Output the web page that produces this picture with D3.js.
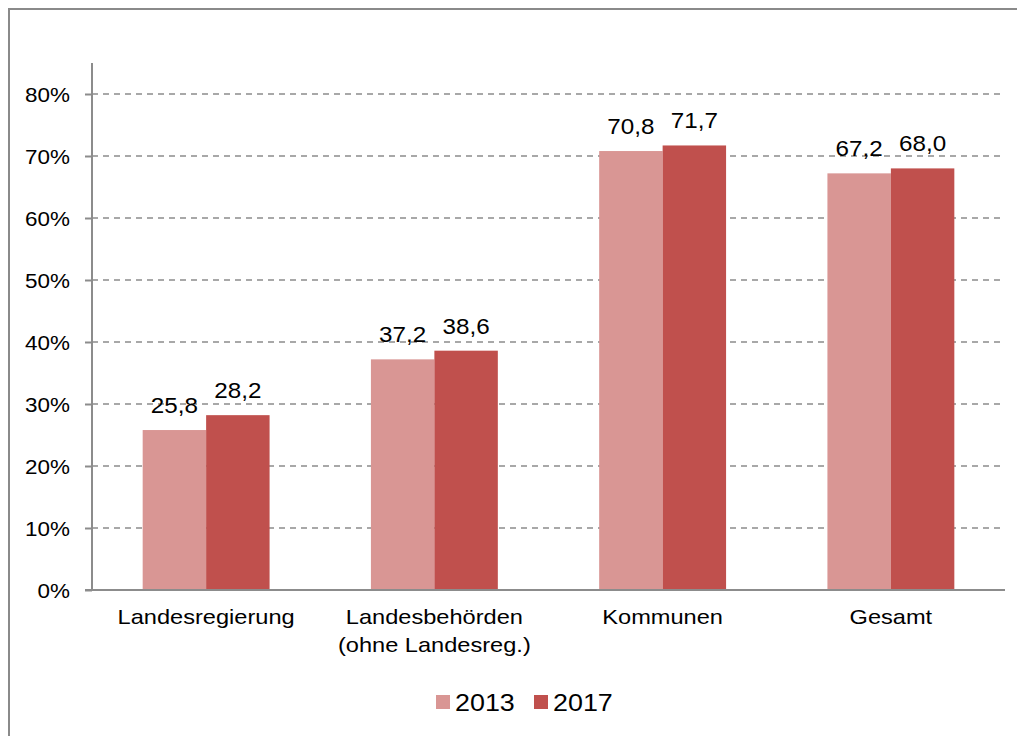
<!DOCTYPE html>
<html><head><meta charset="utf-8">
<script src="https://cdn.jsdelivr.net/npm/d3@7"></script>
<style>body{margin:0;background:#fff}svg{display:block;font-family:"Liberation Sans",Arial,sans-serif}</style>
</head><body><svg id="c" width="1017" height="736"></svg>
<script>
const categories = [["Landesregierung"], ["Landesbehörden", "(ohne Landesreg.)"], ["Kommunen"], ["Gesamt"]];
const series = ["2013", "2017"];
const values2013 = [25.8, 37.2, 70.8, 67.2];
const values2017 = [28.2, 38.6, 71.7, 68.0];
const yTicks = [0, 10, 20, 30, 40, 50, 60, 70, 80];
const colors = ["#D99694", "#C0504D"];

const svg = d3.select("#c");
function txt(parent, x, y, s, size, sx, anchor) {
  return parent.append("text").attr("transform", `translate(${x},${y}) scale(${sx},1)`)
    .attr("text-anchor", anchor || "middle").attr("font-size", size).attr("fill", "#000").text(s);
}
// outer border
svg.append("path").attr("d", "M9,740 L9,9 L1020,9").attr("fill", "none").attr("stroke", "#8a8a8a").attr("stroke-width", 2);

const x0 = 92, x1 = 1005, yBase = 590;
const y = d3.scaleLinear().domain([0, 80]).range([yBase, 94]);
const xg = d3.scaleBand().domain(d3.range(categories.length)).range([x0, x1]).paddingInner(0.444).paddingOuter(0.222);
const xs = d3.scaleBand().domain(series).range([0, xg.bandwidth()]);

// gridlines
svg.append("g").selectAll("line").data(yTicks.filter(d => d > 0)).join("line")
  .attr("x1", x0).attr("x2", x1).attr("y1", d => y(d)).attr("y2", d => y(d))
  .attr("stroke", "#8c8c8c").attr("stroke-width", 1.5).attr("stroke-dasharray", "6,5");

// bars
const data = categories.map((c, i) => [values2013[i], values2017[i]]);
const g = svg.append("g");
data.forEach((vals, i) => {
  vals.forEach((v, j) => {
    g.append("rect").attr("x", xg(i) + xs(series[j])).attr("width", xs.bandwidth())
      .attr("y", y(v)).attr("height", yBase - y(v)).attr("fill", colors[j]);
    txt(g, xg(i) + xs(series[j]) + xs.bandwidth() / 2, y(v) - 17, v.toFixed(1).replace(".", ","), 22, 1.1);
  });
});

// y axis
const yAxis = d3.axisLeft(y).tickValues(yTicks).tickSize(7).tickFormat("");
const ya = svg.append("g").attr("transform", `translate(${x0},0)`).call(yAxis);
ya.select(".domain").remove();
ya.selectAll(".tick line").attr("stroke", "#8c8c8c").attr("stroke-width", 2);
yTicks.forEach(t => txt(svg, 70, y(t) + 7.5, t + "%", 21, 1.07, "end"));
svg.append("line").attr("x1", x0).attr("x2", x0).attr("y1", 63).attr("y2", yBase).attr("stroke", "#8c8c8c").attr("stroke-width", 2);
svg.append("line").attr("x1", 85).attr("x2", x1).attr("y1", yBase).attr("y2", yBase).attr("stroke", "#8c8c8c").attr("stroke-width", 2);

// category labels
categories.forEach((lines, i) => {
  lines.forEach((l, k) => txt(svg, xg(i) + xg.bandwidth() / 2, 624 + k * 28, l, 20, 1.18));
});

// legend
const legX = [436, 534];
series.forEach((s, j) => {
  svg.append("rect").attr("x", legX[j]).attr("y", 695).attr("width", 14).attr("height", 14).attr("fill", colors[j]);
  txt(svg, legX[j] + 19, 711, s, 24, 1.12, "start");
});
</script></body></html>
